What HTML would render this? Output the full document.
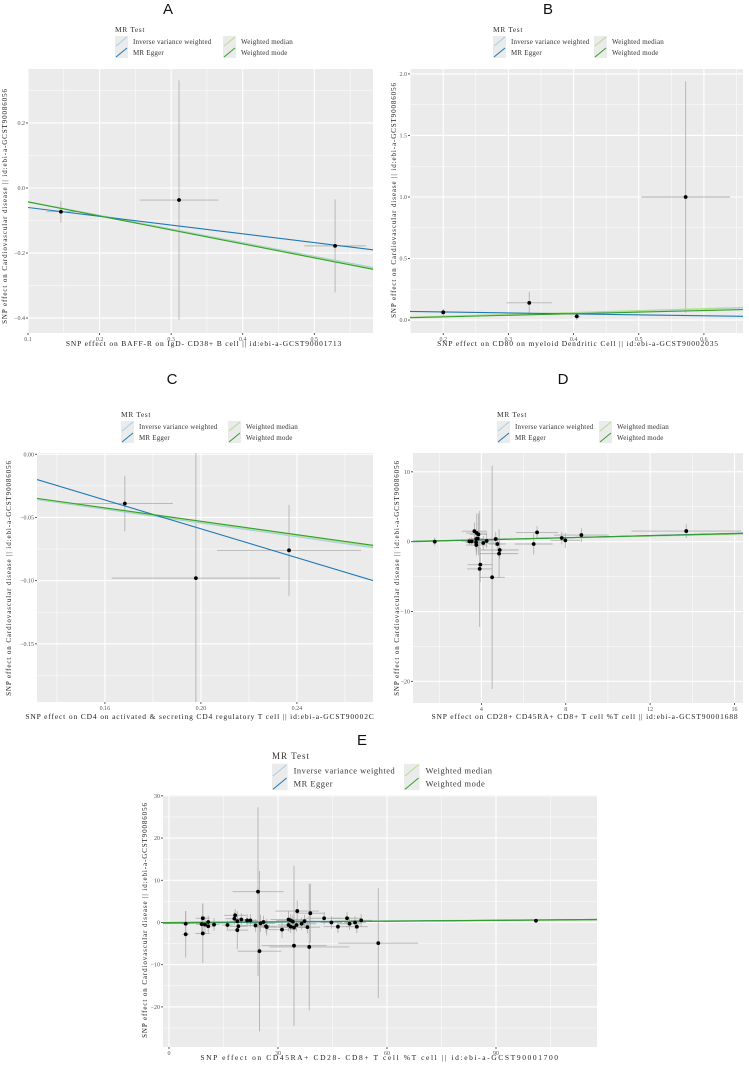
<!DOCTYPE html>
<html><head><meta charset="utf-8"><style>
html,body{margin:0;padding:0;background:#fff;width:749px;height:1066px;overflow:hidden;}
svg{display:block;}
text{font-family:"Liberation Serif",serif;}
</style></head><body>
<svg id="fig" width="749" height="1066" viewBox="0 0 749 1066" xmlns="http://www.w3.org/2000/svg"></svg>
<script>
// ---------- data ----------
const methods = ['Inverse variance weighted','MR Egger','Weighted median','Weighted mode'];
const methodColors = ['#a6cee3','#1f78b4','#b2df8a','#33a02c'];

// Panel A
const aX  = [0.146, 0.311, 0.529];
const aY  = [-0.073, -0.037, -0.178];
const aXe = [0.02, 0.055, 0.043];
const aYe = [0.033, 0.368, 0.143];
const aSlope = [-0.42, -0.27, -0.425, -0.43];
const aIntercept = [0, -0.033, 0, 0];
const aXTicks = [0.1, 0.2, 0.3, 0.4, 0.5];
const aYTicks = [0.2, 0.0, -0.2, -0.4];

// Panel B
const bX  = [0.2, 0.332, 0.405, 0.572];
const bY  = [0.063, 0.14, 0.03, 1.0];
const bXe = [0.005, 0.035, 0.005, 0.068];
const bYe = [0.03, 0.09, 0.03, 0.94];
const bSlope = [0.15, -0.078, 0.155, 0.13];
const bIntercept = [0, 0.0817, 0, 0];
const bXTicks = [0.2, 0.3, 0.4, 0.5, 0.6];
const bYTicks = [0.0, 0.5, 1.0, 1.5, 2.0];

// Panel C
const cX  = [0.1683, 0.1979, 0.2367];
const cY  = [-0.039, -0.098, -0.076];
const cXe = [0.02, 0.035, 0.03];
const cYe = [0.022, 0.11, 0.036];
const cSlope = [-0.272, -0.571, -0.268, -0.265];
const cIntercept = [0, 0.0552, 0, 0];
const cXTicks = [0.16, 0.20, 0.24];
const cYTicks = [0.00, -0.05, -0.10, -0.15];

// Panel D
const dX  = [1.79,3.43,3.54,3.67,3.78,3.86,3.76,3.83,3.75,3.76,4.09,4.25,4.68,4.76,4.87,4.84,3.95,3.92,4.51,6.48,6.64,7.81,7.98,8.74,13.71];
const dY  = [0.0,0.05,0.05,1.5,1.24,1.05,0.38,0.43,-0.1,-0.48,-0.19,0.1,0.38,-0.33,-1.19,-1.71,-3.29,-3.9,-5.1,-0.33,1.33,0.52,0.19,0.95,1.52];
const dXe = [0.1,0.4,0.3,0.6,0.5,0.4,0.4,0.3,0.5,0.5,0.6,0.4,0.5,0.4,0.9,0.9,0.6,0.6,0.6,0.9,1.0,0.6,0.7,1.3,2.6];
const dYe = [0.6,0.5,0.6,1.2,2.8,3.0,1.0,1.0,1.2,1.5,1.0,1.0,1.0,1.0,1.3,3.5,2.5,8.3,16.0,1.5,0.9,0.9,1.1,1.0,1.0];
const dSlope = [0.07, 0.078, 0.066, 0.072];
const dIntercept = [0, -0.06, 0, 0];
const dXTicks = [4, 8, 12, 16];
const dYTicks = [10, 0, -10, -20];

// Panel E
const eX  = [4.6,4.6,9.3,9.0,9.3,9.9,10.8,10.8,12.4,16.1,18.2,18.0,18.8,19.1,18.8,19.9,21.5,22.4,23.8,24.5,24.9,25.2,26.0,26.7,26.9,31.1,32.9,33.5,34.1,32.9,33.5,34.4,35.1,34.4,35.3,36.5,37.3,38.1,38.9,38.6,42.7,44.7,46.5,49.0,49.7,51.2,51.7,52.9,57.6,101.0];
const eY  = [-0.3,-2.8,1.0,-0.4,-2.6,-0.5,-0.9,0.1,-0.5,-0.6,1.7,0.9,0.3,-0.9,-1.8,0.7,0.5,0.5,-0.7,7.3,-6.8,-0.2,0.1,-0.9,-1.1,-1.7,0.7,0.5,0.2,-0.6,-1.0,-1.2,-0.6,-5.5,2.7,-0.3,0.3,-1.1,2.2,-5.8,1.0,0.0,-1.0,1.0,-0.3,0.0,-1.0,0.5,-4.9,0.4];
const eXe = [1.2,1.0,2.0,1.5,2.0,1.5,1.5,1.2,1.5,1.5,3.0,2.5,2.0,2.5,3.0,2.5,2.0,2.0,4.0,7.0,6.0,4.0,4.0,3.0,3.5,4.0,5.0,4.0,4.0,3.0,3.5,4.0,3.5,9.0,6.0,4.0,3.0,3.5,4.0,11.0,5.0,3.0,4.0,4.0,3.0,3.0,3.0,3.0,11.0,0.6];
const eYe = [3.0,5.5,3.5,2.0,7.0,2.0,1.5,1.5,1.5,1.0,1.5,1.5,1.5,1.5,4.5,1.5,1.5,1.5,1.5,20.0,19.0,2.0,1.5,1.5,2.0,2.0,2.0,1.5,1.5,1.5,1.5,1.5,1.5,19.0,2.5,1.5,1.5,1.5,7.0,15.0,1.5,1.5,1.5,1.5,1.5,1.5,1.5,1.5,13.0,0.5];
const eSlope = [0.0062, 0.0075, 0.0050, 0.0056];
const eIntercept = [0, -0.15, 0, 0];
const eXTicks = [0, 30, 60, 90];
const eYTicks = [30, 20, 10, 0, -10, -20];

// ---------- drawing ----------
const NS = 'http://www.w3.org/2000/svg';
const svg = document.getElementById('fig');
function mk(tag, attrs, parent){
  const el = document.createElementNS(NS, tag);
  for (const k in attrs) el.setAttribute(k, attrs[k]);
  (parent || svg).appendChild(el);
  return el;
}
function fmt(v, dec){ return (v < 0 ? '\u2212' : '') + Math.abs(v).toFixed(dec); }

function panel(cfg){
  const g = mk('g', {});
  
  
  const [L,T,R,B] = cfg.rect;
  const sx = v => L + (v - cfg.xdom[0]) / (cfg.xdom[1] - cfg.xdom[0]) * (R - L);
  const sy = v => B - (v - cfg.ydom[0]) / (cfg.ydom[1] - cfg.ydom[0]) * (B - T);

  const letter = mk('text', {x: cfg.letter[0], y: cfg.letter[1], 'font-size': 15, fill: '#111', 'text-anchor': 'middle'}, g);
  letter.style.fontFamily = '"Liberation Sans",sans-serif';
  letter.textContent = cfg.id.toUpperCase();
  
  

  const lg = mk('g', {}, g);
  
  
  const [lx, ly] = cfg.legend;
  const ls = cfg.legendScale || 1;
  const lt = mk('text', {x: lx, y: ly, 'font-size': 7.5*ls, fill: '#333', 'letter-spacing': ls>1?1:0.6}, lg);
  lt.textContent = 'MR Test';
  
  
  methods.forEach((m, i) => {
    const col = i < 2 ? 0 : 1, row = i % 2;
    const kx = lx + col * cfg.legendCol;
    const ky = ly + 4*ls + row * 11*ls;
    const kw = 13*ls, kh = 11*ls;
    const e = mk('g', {}, lg);
    
    
    mk('rect', {x: kx, y: ky, width: kw, height: kh, fill: '#ebebeb'}, e);
    mk('line', {x1: kx + 1, y1: ky + kh - 1, x2: kx + kw - 1, y2: ky + 1, stroke: methodColors[i], 'stroke-width': 1}, e);
    const tt = mk('text', {x: kx + kw + 5*ls, y: ky + kh*0.72, 'font-size': 7*ls, fill: '#333', 'letter-spacing': ls>1?0.55:0.2}, e);
    tt.textContent = m;
  });

  const bg = mk('rect', {x: L, y: T, width: R - L, height: B - T, fill: '#ebebeb'}, g);
  
  
  const clipId = 'clip' + cfg.id;
  const cp = mk('clipPath', {id: clipId}, g);
  mk('rect', {x: L, y: T, width: R - L, height: B - T}, cp);

  const grid = mk('g', {'clip-path': 'url(#' + clipId + ')'}, g);
  const xt = cfg.xticks, yt = cfg.yticks;
  const xs = xt[1] - xt[0], ys = yt[1] - yt[0];
  for (let k = -3; k < xt.length + 4; k++) {
    const v = xt[0] + k * xs;
    mk('line', {x1: sx(v), x2: sx(v), y1: T, y2: B, stroke: '#fff', 'stroke-width': 1.1}, grid);
    const vm = v + xs / 2;
    mk('line', {x1: sx(vm), x2: sx(vm), y1: T, y2: B, stroke: '#fff', 'stroke-width': 0.5}, grid);
  }
  for (let k = -3; k < yt.length + 4; k++) {
    const v = yt[0] + k * ys;
    mk('line', {y1: sy(v), y2: sy(v), x1: L, x2: R, stroke: '#fff', 'stroke-width': 1.1}, grid);
    const vm = v + ys / 2;
    mk('line', {y1: sy(vm), y2: sy(vm), x1: L, x2: R, stroke: '#fff', 'stroke-width': 0.5}, grid);
  }

  xt.forEach(v => {
    mk('line', {x1: sx(v), x2: sx(v), y1: B, y2: B + 2, stroke: '#333', 'stroke-width': 0.8}, g);
    const t = mk('text', {x: sx(v), y: B + 8, 'font-size': 6, fill: '#555', 'text-anchor': 'middle'}, g);
    t.textContent = fmt(v, cfg.xdec);
    
    
  });
  yt.forEach(v => {
    mk('line', {x1: L - 2, x2: L, y1: sy(v), y2: sy(v), stroke: '#333', 'stroke-width': 0.8}, g);
    const t = mk('text', {x: L - 3, y: sy(v) + 2, 'font-size': 6, fill: '#555', 'text-anchor': 'end'}, g);
    t.textContent = fmt(v, cfg.ydec);
    
    
  });

  const xtl = mk('text', {x: cfg.xtitle[0], y: cfg.xtitle[1], 'font-size': 7.5, fill: '#222', 'text-anchor': 'middle', 'letter-spacing': cfg.xls || 0.85}, g);
  xtl.textContent = cfg.xlabel;
  
  
  const ytx = cfg.ytitle[0], yty = cfg.ytitle[1];
  const ytl = mk('text', {x: ytx, y: yty, 'font-size': 7, fill: '#222', 'text-anchor': 'middle', transform: 'rotate(-90 ' + ytx + ' ' + yty + ')', 'letter-spacing': 0.9}, g);
  ytl.textContent = 'SNP effect on Cardiovascular disease || id:ebi-a-GCST90086056';
  
  

  const plot = mk('g', {'clip-path': 'url(#' + clipId + ')'}, g);
  cfg.x.forEach((xv, i) => {
    const yv = cfg.y[i];
    mk('line', {x1: sx(xv), x2: sx(xv), y1: sy(yv - cfg.ye[i]), y2: sy(yv + cfg.ye[i]), stroke: '#a9a9a9', 'stroke-width': 0.9, opacity: 0.85}, plot);
    mk('line', {x1: sx(xv - cfg.xe[i]), x2: sx(xv + cfg.xe[i]), y1: sy(yv), y2: sy(yv), stroke: '#a9a9a9', 'stroke-width': 0.9, opacity: 0.85}, plot);
  });
  [0, 2, 1, 3].forEach(i => {
    const x0 = cfg.xdom[0], x1 = cfg.xdom[1];
    const ln = mk('line', {x1: sx(x0), x2: sx(x1), y1: sy(cfg.icpt[i] + cfg.slope[i] * x0), y2: sy(cfg.icpt[i] + cfg.slope[i] * x1), stroke: methodColors[i], 'stroke-width': 1.1}, plot);
    
    
  });
  cfg.x.forEach((xv, i) => {
    const p = mk('circle', {cx: sx(xv), cy: sy(cfg.y[i]), r: 1.9, fill: '#000'}, plot);
    
    
  });
}

panel({id:'a', rect:[28,69,373,333], xdom:[0.1,0.582], ydom:[-0.446,0.366],
  x:aX, y:aY, xe:aXe, ye:aYe, slope:aSlope, icpt:aIntercept, xticks:aXTicks, yticks:aYTicks, xdec:1, ydec:1,
  letter:[168,14], legend:[115,32], legendCol:108,
  xtitle:[204,346], xlabel:'SNP effect on BAFF-R on IgD- CD38+ B cell || id:ebi-a-GCST90001713', ytitle:[7,206]});
panel({id:'b', rect:[410,69,743,333], xdom:[0.149,0.66], ydom:[-0.105,2.04],
  x:bX, y:bY, xe:bXe, ye:bYe, slope:bSlope, icpt:bIntercept, xticks:bXTicks, yticks:bYTicks, xdec:1, ydec:1,
  letter:[548,14], legend:[493,32], legendCol:101,
  xtitle:[578,346], xlabel:'SNP effect on CD80 on myeloid Dendritic Cell || id:ebi-a-GCST90002035', ytitle:[396,200]});
panel({id:'c', rect:[37,453,373,702], xdom:[0.1317,0.2717], ydom:[-0.196,0.001],
  x:cX, y:cY, xe:cXe, ye:cYe, slope:cSlope, icpt:cIntercept, xticks:cXTicks, yticks:cYTicks, xdec:2, ydec:2,
  letter:[172,384], legend:[121,417], legendCol:107,
  xtitle:[200,719], xlabel:'SNP effect on CD4 on activated & secreting CD4 regulatory T cell || id:ebi-a-GCST90002C', ytitle:[11,578]});
panel({id:'d', rect:[413,453,743,703], xdom:[0.76,16.4], ydom:[-23.1,12.7],
  x:dX, y:dY, xe:dXe, ye:dYe, slope:dSlope, icpt:dIntercept, xticks:dXTicks, yticks:dYTicks, xdec:0, ydec:0,
  letter:[563,384], legend:[497,417], legendCol:102,
  xtitle:[585,719], xlabel:'SNP effect on CD28+ CD45RA+ CD8+ T cell %T cell || id:ebi-a-GCST90001688', ytitle:[399,578]});
panel({id:'e', rect:[163,795,597,1047], xdom:[-1.65,117.8], ydom:[-29.5,30.2],
  x:eX, y:eY, xe:eXe, ye:eYe, slope:eSlope, icpt:eIntercept, xticks:eXTicks, yticks:eYTicks, xdec:0, ydec:0,
  letter:[362,745], legend:[272,759], legendCol:132, legendScale:1.2, xls:1.6,
  xtitle:[380,1060], xlabel:'SNP effect on CD45RA+ CD28- CD8+ T cell %T cell || id:ebi-a-GCST90001700', ytitle:[147,920]});
</script>
</body></html>
